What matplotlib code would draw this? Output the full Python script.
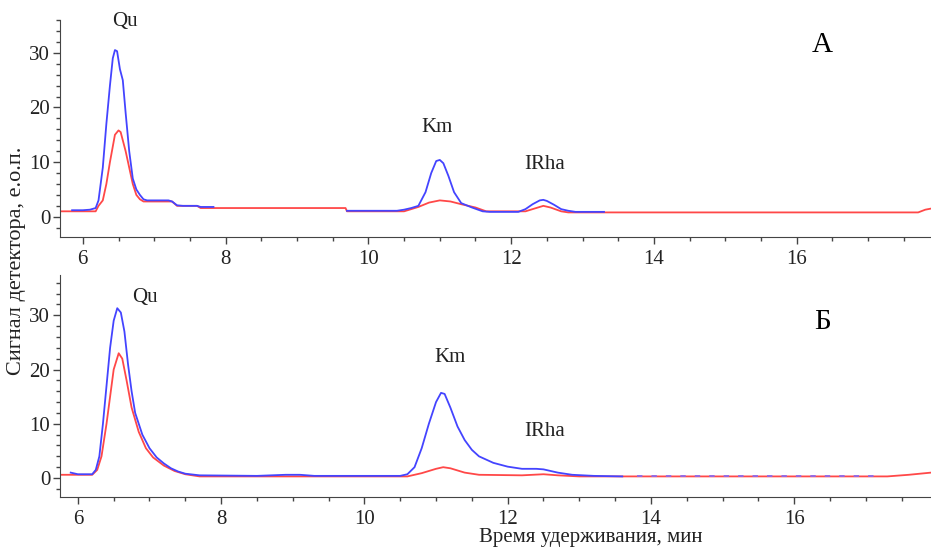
import numpy as np
import matplotlib.pyplot as plt
from matplotlib.ticker import MultipleLocator

plt.rcParams['font.family'] = ['Liberation Serif', 'DejaVu Serif']

# panel A (top)
a_blue_t = [5.85, 6.0, 6.1, 6.18, 6.22, 6.28, 6.33, 6.38, 6.42, 6.45, 6.48, 6.52, 6.56, 6.6, 6.65,
            6.7, 6.75, 6.8, 6.85, 6.9, 7.0, 7.2, 7.25, 7.32, 7.4, 7.6, 7.65, 7.83, np.nan,
            9.7, 10.4, 10.5, 10.6, 10.7, 10.8, 10.88, 10.95, 11.0, 11.05, 11.12, 11.2, 11.3, 11.45,
            11.6, 11.7, 12.1, 12.2, 12.3, 12.4, 12.45, 12.5, 12.6, 12.7, 12.8, 12.9, 13.3]
a_blue_s = [1.2, 1.2, 1.3, 1.6, 3, 9, 17, 24, 29, 30.5, 30.3, 27, 25, 19, 12,
            7, 5, 4, 3.2, 3.0, 3.0, 3.0, 2.8, 2.1, 2.0, 2.0, 1.8, 1.8, np.nan,
            1.1, 1.1, 1.3, 1.6, 2.0, 4.5, 8, 10.2, 10.4, 9.8, 7.5, 4.5, 2.5, 1.7,
            1.0, 0.9, 0.9, 1.4, 2.3, 3.0, 3.1, 2.9, 2.2, 1.4, 1.1, 0.9, 0.9]
a_red_t = [5.65, 6.18, 6.22, 6.28, 6.33, 6.38, 6.45, 6.5, 6.53, 6.6, 6.65, 6.7, 6.75, 6.8, 6.85,
           7.25, 7.32, 7.6, 7.65, 9.68, 9.7, 10.5, 10.7, 10.85, 11.0, 11.15, 11.3, 11.5, 11.65,
           12.2, 12.35, 12.45, 12.55, 12.7, 12.8, 17.7, 17.8, 17.88]
a_red_s = [1.0, 1.0, 2, 3, 6, 10, 15, 15.8, 15.5, 12, 9, 6, 4, 3.2, 2.8,
           2.8, 2.0, 2.0, 1.6, 1.6, 1.0, 1.0, 1.8, 2.6, 3.0, 2.8, 2.3, 1.7, 1.0,
           1.0, 1.6, 2.0, 1.7, 1.0, 0.8, 0.8, 1.3, 1.5]

# panel Б (bottom)
b_blue_t = [5.9, 6.0, 6.2, 6.25, 6.3, 6.35, 6.4, 6.45, 6.5, 6.55, 6.6, 6.65, 6.7, 6.75, 6.8,
            6.9, 7.0, 7.1, 7.2, 7.3, 7.4, 7.5, 7.7, 8.5, 8.9, 9.1, 9.3, 10.5, 10.6, 10.7,
            10.8, 10.9, 11.0, 11.07, 11.12, 11.2, 11.3, 11.4, 11.5, 11.6, 11.8, 12.0, 12.2,
            12.4, 12.5, 12.7, 12.9, 13.2, 13.6]
b_blue_s = [1.0, 0.7, 0.7, 1.5, 4, 10, 17, 24, 29, 31.3, 30.5, 27, 21, 16, 12,
            8, 5.5, 3.8, 2.7, 1.8, 1.2, 0.8, 0.5, 0.4, 0.6, 0.6, 0.4, 0.4, 0.7, 2,
            5.5, 10, 14, 15.7, 15.5, 13, 9.5, 7, 5.2, 4.0, 2.8, 2.1, 1.7,
            1.7, 1.6, 1.0, 0.6, 0.4, 0.3]
b_blue_tail_t = [13.8, 17.2]
b_blue_tail_s = [0.3, 0.3]
b_red_t = [5.75, 6.2, 6.27, 6.33, 6.4, 6.45, 6.5, 6.57, 6.62, 6.68, 6.75, 6.85, 6.95, 7.05, 7.2,
           7.35, 7.5, 7.7, 10.6, 10.8, 11.0, 11.1, 11.2, 11.4, 11.6, 12.2, 12.5, 12.7, 13.0,
           17.3, 17.6, 17.91]
b_red_s = [0.6, 0.6, 1.5, 4, 10, 15, 20, 23, 22, 18, 13, 8.5, 5.5, 3.8, 2.3,
           1.3, 0.7, 0.3, 0.3, 0.9, 1.7, 2.0, 1.8, 1.0, 0.6, 0.5, 0.7, 0.5, 0.3,
           0.3, 0.6, 1.0]

blue = '#4444ff'
red = '#ff4848'
txt = '#222222'

fig = plt.figure(figsize=(9.31, 5.48), dpi=100)
ax1 = fig.add_axes([0.0644, 0.5675, 0.9356, 0.396])
ax2 = fig.add_axes([0.0644, 0.093, 0.9356, 0.405])

ax1.plot(a_red_t, a_red_s, color=red, lw=1.3)
ax1.plot(a_blue_t, a_blue_s, color=blue, lw=1.3)
ax2.plot(b_red_t, b_red_s, color=red, lw=1.3)
ax2.plot(b_blue_t, b_blue_s, color=blue, lw=1.3)
ax2.plot(b_blue_tail_t, b_blue_tail_s, color='#8a6aee', lw=1.3, linestyle=(0, (3, 5)))

ax1.set_xlim(5.68, 17.88)
ax1.set_ylim(-3.7, 36)
ax2.set_xlim(5.75, 17.91)
ax2.set_ylim(-3.5, 37.4)

for ax in (ax1, ax2):
    for s in ('top', 'right'):
        ax.spines[s].set_visible(False)
    ax.spines['left'].set_color('#444444')
    ax.spines['bottom'].set_color('#444444')
    ax.xaxis.set_major_locator(MultipleLocator(2))
    ax.xaxis.set_minor_locator(MultipleLocator(0.5))
    ax.yaxis.set_major_locator(MultipleLocator(10))
    ax.yaxis.set_minor_locator(MultipleLocator(2))
    ax.tick_params(which='major', length=5, width=1, colors='#444444', labelcolor=txt, labelsize=15)
    ax.tick_params(which='minor', length=3, width=1, colors='#444444')
    ax.tick_params(axis='x', pad=4)
    ax.tick_params(axis='y', pad=2)

ax1.text(6.59, 35.7, 'Qu', ha='center', va='center', fontsize=15, color=txt)
ax1.text(10.96, 16.3, 'Km', ha='center', va='center', fontsize=15, color=txt)
ax1.text(12.47, 9.5, 'IRha', ha='center', va='center', fontsize=15, color=txt)
ax1.text(16.35, 31.5, 'А', ha='center', va='center', fontsize=21, color='black')

ax2.text(6.94, 33.3, 'Qu', ha='center', va='center', fontsize=15, color=txt)
ax2.text(11.2, 22.3, 'Km', ha='center', va='center', fontsize=15, color=txt)
ax2.text(12.52, 8.5, 'IRha', ha='center', va='center', fontsize=15, color=txt)
ax2.text(16.39, 28.7, 'Б', ha='center', va='center', fontsize=21, color='black')

fig.text(0.634, 0.02, 'Время удерживания, мин', ha='center', va='center', fontsize=15, color=txt)
fig.text(0.018, 0.524, 'Сигнал детектора, е.о.п.', ha='center', va='center', rotation=90,
         fontsize=16, color=txt)

fig.savefig('out.png', dpi=100)
